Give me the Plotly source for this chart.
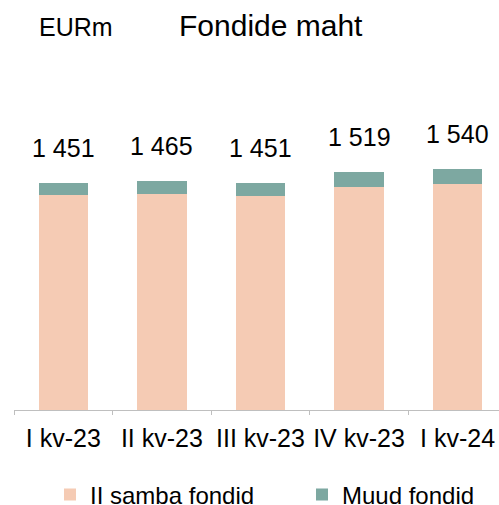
import plotly.graph_objects as go

categories = ["I kv-23", "II kv-23", "III kv-23", "IV kv-23", "I kv-24"]
samba2 = [1373, 1380, 1366, 1428, 1447]
muud = [78, 85, 85, 91, 93]
series_names = ["II samba fondid", "Muud fondid"]
title_text = "Fondide maht"
unit_text = "EURm"

totals = [a + b for a, b in zip(samba2, muud)]
total_labels = [f"{t:,}".replace(",", " ") for t in totals]

FONT = "Liberation Sans, Arial, sans-serif"
C_PEACH = "#F5CBB4"
C_GREEN = "#7DA8A1"

fig = go.Figure()
fig.add_trace(go.Bar(x=categories, y=samba2, name=series_names[0],
                     marker=dict(color=C_PEACH, line=dict(width=0)), width=0.5,
                     legend="legend"))
fig.add_trace(go.Bar(x=categories, y=muud, name=series_names[1],
                     marker=dict(color=C_GREEN, line=dict(width=0)), width=0.5,
                     legend="legend2"))

for c, t, lab in zip(categories, totals, total_labels):
    fig.add_annotation(x=c, y=t, text=lab, showarrow=False, xref="x", yref="y",
                       yanchor="middle", yshift=35,
                       font=dict(family=FONT, size=25, color="#000000"))

fig.add_annotation(x=0.128, y=1.11, xref="paper", yref="paper", text=unit_text,
                   showarrow=False, xanchor="center", yanchor="middle",
                   font=dict(family=FONT, size=25, color="#000000"))
fig.add_annotation(x=0.529, y=1.115, xref="paper", yref="paper", text=title_text,
                   showarrow=False, xanchor="center", yanchor="middle",
                   font=dict(family=FONT, size=30, color="#000000"))

leg_common = dict(orientation="h", xref="container", yref="container",
                  xanchor="left", y=0.02, yanchor="middle",
                  font=dict(family=FONT, size=24, color="#000000"),
                  bgcolor="rgba(0,0,0,0)", borderwidth=0)

fig.update_layout(
    width=499, height=505,
    margin=dict(l=14, r=0, t=65, b=95, autoexpand=False),
    barmode="stack",
    plot_bgcolor="white", paper_bgcolor="white",
    font=dict(family=FONT, color="#000000"),
    showlegend=True,
    legend=dict(x=50 / 499, **leg_common),
    legend2=dict(x=302 / 499, **leg_common),
    xaxis=dict(range=[-0.5, 4.42], showgrid=False, showline=True,
               linecolor="#BFBFBF", linewidth=1, ticks="outside",
               tickson="boundaries", ticklen=4, tickcolor="#BFBFBF",
               tickfont=dict(family=FONT, size=25, color="#000000"),
               tickangle=0, automargin=False,
               ticklabelstandoff=6, fixedrange=True),
    yaxis=dict(range=[0, 2205], visible=False, showgrid=False, fixedrange=True,
               automargin=False),
)

fig.write_html("out.html", config={"displayModeBar": False},
               post_script="document.body.style.margin='0';document.body.style.overflow='hidden';")
